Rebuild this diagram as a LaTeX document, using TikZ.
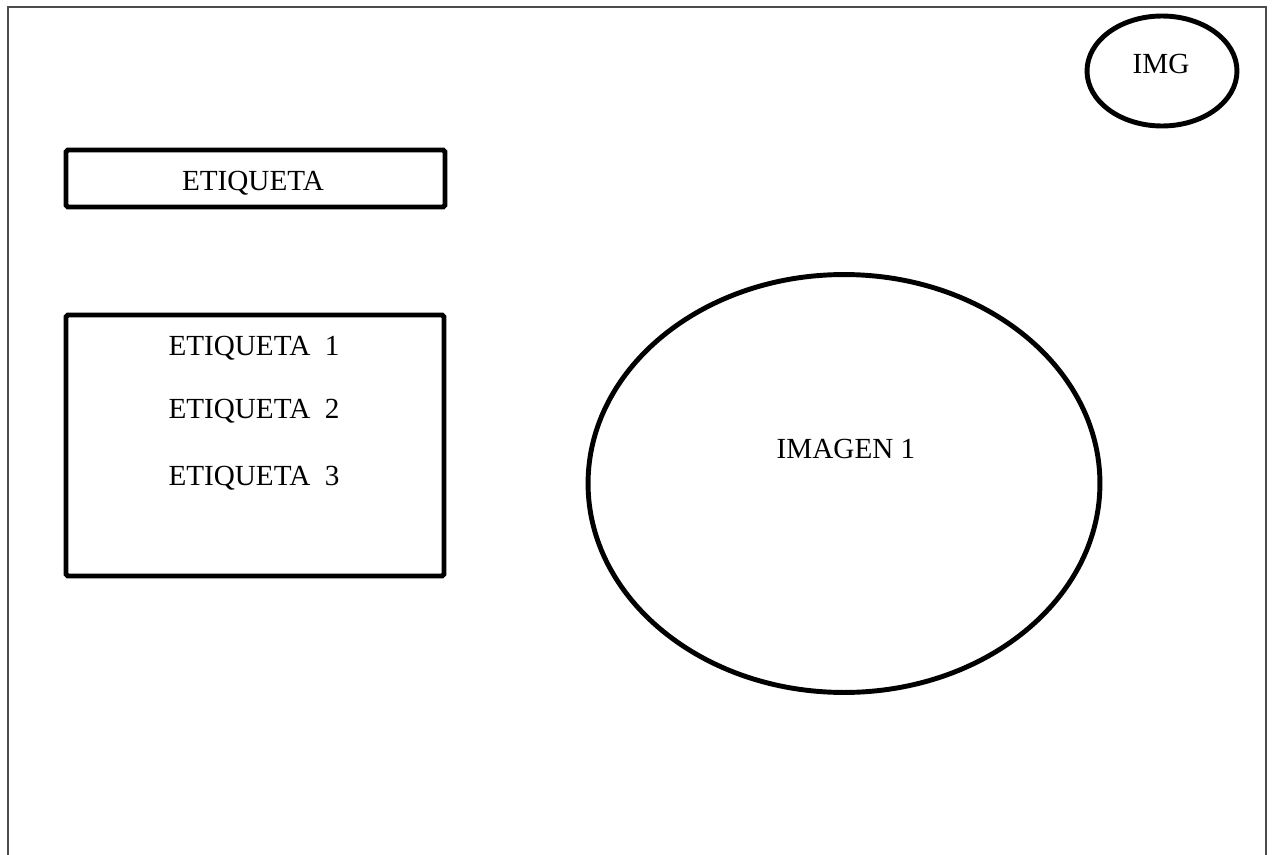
\documentclass[tikz,border=0pt]{standalone}
\usepackage{fontspec}
\setmainfont{Liberation Serif}
\usetikzlibrary{shapes.geometric}

\tikzstyle{caja} = [rectangle, draw, line width=2.8pt, rounded corners=1pt, inner sep=0mm]
\tikzstyle{elipse} = [ellipse, draw, line width=2.8pt, inner sep=0mm]
\tikzstyle{texto} = [anchor=base, inner sep=0mm, font=\fontsize{16.6pt}{20pt}\selectfont]

\begin{document}
\begin{tikzpicture}[x=0.02cm, y=-0.02cm]
		\useasboundingbox (0,0) rectangle (1272,855);
		% marco de la pantalla (sin borde inferior)
		\draw[gray!60!black, line width=1pt] (8,855) -- (8,7) -- (1266,7) -- (1266,855);
		\node[caja, minimum width=7.58cm, minimum height=1.14cm] (etiqueta) at (255.5,178.5) {};
		\node[texto] (etiquetatxt) at (253,191) {ETIQUETA};
		\node[caja, minimum width=7.56cm, minimum height=5.22cm] (lista) at (255,445.5) {};
		\foreach \n/\y in {1/355, 2/418, 3/485}
		\node[texto] (etiqueta\n) at (254,\y) {ETIQUETA\ \ \n};
		\node[elipse, minimum width=10.24cm, minimum height=8.36cm] (imagen) at (844,483.5) {};
		\node[texto] (imagentxt) at (846,458) {IMAGEN 1};
		\node[elipse, minimum width=3cm, minimum height=2.2cm] (img) at (1162,71) {};
		\node[texto] (imgtxt) at (1161,74) {IMG};
	\end{tikzpicture}
\end{document}
